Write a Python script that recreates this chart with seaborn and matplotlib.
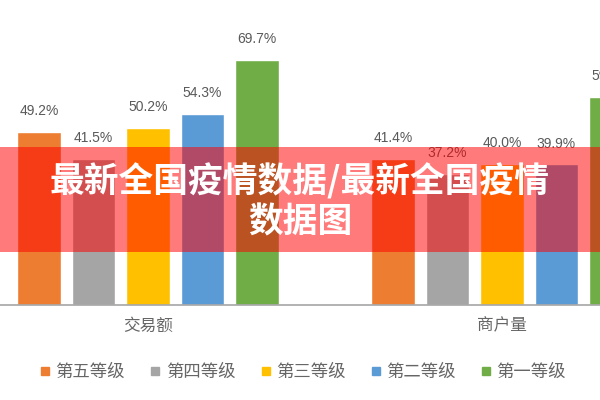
import pandas as pd
import seaborn as sns
import matplotlib.pyplot as plt
from matplotlib.lines import Line2D
from matplotlib.patches import Rectangle

# chart data
categories = ['交易额', '商户量']
levels = ['第五等级', '第四等级', '第三等级', '第二等级', '第一等级']
trade_values = [49.2, 41.5, 50.2, 54.3, 69.7]
merchant_values = [41.4, 37.2, 40.0, 39.9, 59.1]
colors = ['#ED7D31', '#A5A5A5', '#FFC000', '#5B9BD5', '#70AD47']
banner_lines = '最新全国疫情数据/最新全国疫情\n数据图'

df = pd.DataFrame({
    'category': [categories[0]] * len(levels) + [categories[1]] * len(levels),
    'level': levels + levels,
    'value': trade_values + merchant_values,
})

sns.set_theme(style='white')
plt.rcParams['font.family'] = ['Noto Sans CJK SC', 'DejaVu Sans']

fig = plt.figure(figsize=(6, 4), dpi=100)
ax = fig.add_axes([0, 0.2375, 1, 0.7625])

sns.barplot(data=df, x='category', y='value', hue='level', order=categories,
            hue_order=levels, palette=colors, saturation=1, width=0.77,
            gap=0.2, legend=False, ax=ax)

ax.set_xlim(-0.418, 1.277)
ax.set_ylim(0, 86.6)
ax.set_xlabel('')
ax.set_ylabel('')
ax.set_yticks([])
for side in ['top', 'left', 'right']:
    ax.spines[side].set_visible(False)
ax.spines['bottom'].set_color('#a6a6a6')
ax.spines['bottom'].set_linewidth(1.2)
ax.tick_params(axis='x', length=0, pad=9, labelsize=12, labelcolor='#666666')

# value labels above the bars
for container in ax.containers:
    for bar in container:
        h = bar.get_height()
        ax.annotate(f'{h:.1f}%', (bar.get_x() + bar.get_width() / 2, h),
                    xytext=(0, 10), textcoords='offset points',
                    ha='center', va='bottom', fontsize=10, color='#595959',
                    family=['Liberation Sans', 'DejaVu Sans'],
                    annotation_clip=False)

handles = [Line2D([], [], marker='s', linestyle='', markersize=5.5,
                  color=c) for c in colors]
leg = fig.legend(handles, levels, ncol=5, loc='center',
                 bbox_to_anchor=(0.505, 0.07), frameon=False, fontsize=12.5,
                 handlelength=0.6, handletextpad=0.3, columnspacing=1.45,
                 labelcolor='#666666')

# red translucent banner with title text
fig.patches.append(Rectangle((0, 0.37), 1, 0.2625, transform=fig.transFigure,
                             facecolor='#ff0000', alpha=0.52, edgecolor='none',
                             zorder=10))
fig.text(0.5, 0.497, banner_lines, ha='center', va='center', color='white',
         fontsize=25, fontweight='bold', linespacing=1.15, zorder=11)

fig.savefig('out.png', dpi=100)
